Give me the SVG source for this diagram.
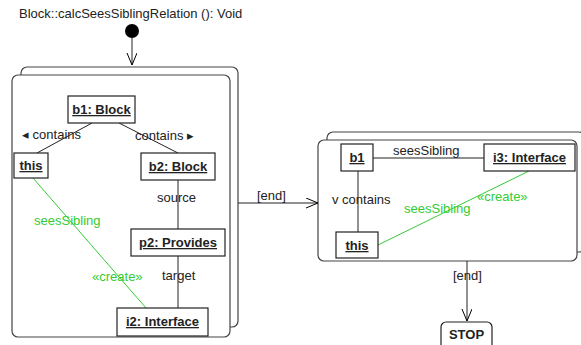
<svg xmlns="http://www.w3.org/2000/svg" width="581" height="345" viewBox="0 0 581 345">
<defs>
<marker id="open" markerWidth="14" markerHeight="14" refX="12" refY="5" orient="auto" markerUnits="userSpaceOnUse">
<path d="M0,0 L12,5 L0,10" fill="none" stroke="#000" stroke-width="1"/>
</marker>
</defs>
<style>
text{font-family:"Liberation Sans",Arial,sans-serif;font-size:13px;fill:#222}
.b{font-weight:bold;text-decoration:underline}
.box{fill:#fff;stroke:#222;stroke-width:1.2}
.frame{fill:#fff;stroke:#444;stroke-width:1.2}
.ln{stroke:#222;stroke-width:1;fill:none}
.g{stroke:#33cc33;stroke-width:1;fill:none}
.gt{fill:#33cc33}
</style>
<rect width="581" height="345" fill="#fff"/>
<text x="19" y="18">Block::calcSeesSiblingRelation (): Void</text>
<g id="start"><circle cx="132" cy="31" r="7" fill="#000"/></g>
<g id="state1">
<rect class="frame" x="21" y="67" width="217" height="260" rx="6"/>
<rect class="frame" x="12" y="75" width="218" height="262" rx="6"/>
</g>
<g id="state2">
<rect class="frame" x="327" y="132" width="258" height="120" rx="6"/>
<rect class="frame" x="318" y="140" width="259" height="121" rx="6"/>
</g>
<g id="connectors">
<line class="ln" x1="132" y1="38" x2="132" y2="65" marker-end="url(#open)"/>
<line class="ln" x1="238" y1="203" x2="318" y2="203" marker-end="url(#open)"/>
<text x="257" y="200">[end]</text>
<line class="ln" x1="467" y1="261" x2="467" y2="321" marker-end="url(#open)"/>
<text x="453" y="280">[end]</text>
<line class="ln" x1="92" y1="123" x2="37" y2="153"/>
<line class="ln" x1="119" y1="123" x2="178" y2="153"/>
<text x="22" y="139">◂ contains</text>
<text x="135" y="140">contains ▸</text>
<line class="ln" x1="178" y1="180" x2="178" y2="229"/>
<text x="157" y="202">source</text>
<line class="ln" x1="178" y1="256" x2="178" y2="308"/>
<text x="162" y="280">target</text>
<line class="g" x1="33" y1="178" x2="146" y2="308"/>
<text class="gt" x="34" y="225">seesSibling</text>
<text class="gt" x="92" y="281">«create»</text>
<line class="ln" x1="373" y1="158" x2="484" y2="158"/>
<text x="393" y="155">seesSibling</text>
<line class="ln" x1="358" y1="171" x2="358" y2="232"/>
<text x="332" y="204">v contains</text>
<line class="g" x1="378" y1="245" x2="529" y2="171"/>
<text class="gt" x="404" y="213">seesSibling</text>
<text class="gt" x="477" y="201">«create»</text>
</g>
<g id="b1Block"><rect class="box" x="68" y="96" width="67" height="27"/><text class="b" x="101.5" y="114" text-anchor="middle">b1: Block</text></g>
<g id="this1"><rect class="box" x="14" y="153" width="34" height="25"/><text class="b" x="31" y="170" text-anchor="middle">this</text></g>
<g id="b2Block"><rect class="box" x="141" y="153" width="74" height="27"/><text class="b" x="178" y="171" text-anchor="middle">b2: Block</text></g>
<g id="p2Provides"><rect class="box" x="131" y="229" width="94" height="27"/><text class="b" x="178" y="247" text-anchor="middle">p2: Provides</text></g>
<g id="i2Interface"><rect class="box" x="117" y="308" width="91" height="28"/><text class="b" x="162.5" y="326" text-anchor="middle">i2: Interface</text></g>
<g id="b1"><rect class="box" x="341" y="144" width="32" height="27"/><text class="b" x="357" y="162" text-anchor="middle">b1</text></g>
<g id="i3Interface"><rect class="box" x="484" y="144" width="91" height="27"/><text class="b" x="529.5" y="162" text-anchor="middle">i3: Interface</text></g>
<g id="this2"><rect class="box" x="336" y="232" width="42" height="26"/><text class="b" x="357" y="250" text-anchor="middle">this</text></g>
<g id="stop"><rect class="box" x="441" y="322" width="51" height="30" rx="5"/><text x="466.5" y="339" text-anchor="middle" font-weight="bold">STOP</text></g>
</svg>
